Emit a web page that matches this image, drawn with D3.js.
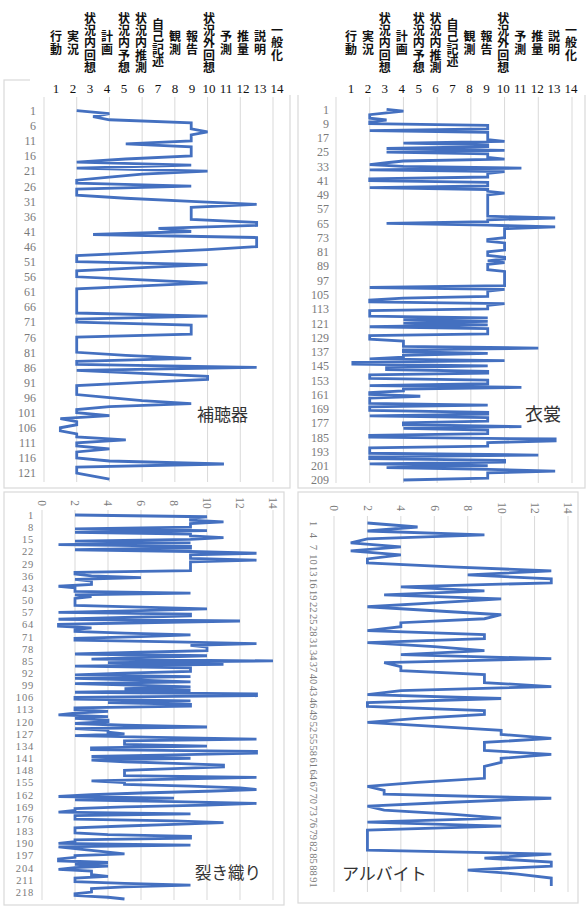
<!DOCTYPE html>
<html>
<head>
<meta charset="UTF-8">
<script src="https://d3js.org/d3.v7.min.js"></script>
<style>
  body { margin: 0; padding: 0; background: #fff; }
  svg { display: block; }
  .ticklab text { font-family: "Liberation Serif", "DejaVu Serif", serif; fill: #7a7a7a; }
  .head-cat { font-family: "Noto Sans CJK JP", sans-serif; font-weight: 700; font-size: 12px; fill: #111;
    writing-mode: vertical-rl; letter-spacing: 0.4px; }
  .head-num { font-family: "Liberation Serif", serif; font-size: 13px; fill: #111; }
  .note { font-family: "Noto Sans CJK JP", sans-serif; fill: #333; }
</style>
</head>
<body>
<svg id="chart" width="588" height="921"></svg>
<script>
  // 発話カテゴリ (1-14)
  var categories = ["行動", "実況", "状況内回想", "計画", "状況内予想", "状況内推測", "自己記述",
    "観測", "報告", "状況外回想", "予測", "推量", "説明", "一般化"];
  var categoryNumbers = d3.range(1, 15);
  var valueTicks = [0, 2, 4, 6, 8, 10, 12, 14];

  // 補聴器
  var hochokiValues = [2, 4, 3, 4, 9, 9, 9, 10, 9, 9,
    9, 5, 9, 9, 9, 9, 5, 2, 9, 2,
    10, 6, 4, 2, 2, 9, 2, 2, 2, 5,
    9, 13, 9, 9, 9, 9, 9, 13, 13, 7,
    9, 3, 13, 13, 13, 13, 10, 6, 2, 2,
    2, 10, 6, 2, 2, 2, 6, 10, 6, 2,
    2, 2, 2, 2, 2, 2, 2, 2, 10, 2,
    2, 9, 9, 9, 9, 2, 2, 2, 2, 2,
    2, 5, 9, 2, 2, 13, 2, 6, 10, 10,
    6, 2, 2, 2, 2, 4, 6, 9, 4, 2,
    2, 4, 1, 2, 2, 1, 1, 2, 2, 5,
    2, 2, 4, 2, 2, 2, 4, 11, 2, 2,
    2, 3, 4];
  var hochokiRowTicks = d3.range(1, 122, 5);

  // 衣裳
  var ishoValues = [3, 4, 3, 2, 2, 2, 3, 2, 2, 9,
    9, 9, 2, 9, 9, 9, 9, 9, 10, 4,
    9, 9, 3, 10, 3, 9, 9, 9, 10, 4,
    3, 2, 4, 11, 2, 10, 9, 9, 9, 2,
    2, 9, 9, 9, 2, 9, 9, 10, 9, 9,
    9, 9, 9, 9, 9, 9, 9, 9, 9, 9,
    9, 13, 9, 9, 3, 9, 13, 10, 10, 10,
    10, 10, 10, 9, 9, 10, 10, 10, 10, 10,
    9, 9, 9, 10, 10, 9, 10, 9, 9, 9,
    9, 10, 10, 10, 10, 10, 10, 10, 10, 10,
    2, 10, 9, 9, 9, 9, 4, 2, 2, 10,
    9, 9, 9, 2, 2, 2, 2, 9, 4, 9,
    4, 9, 2, 9, 9, 9, 9, 2, 2, 2,
    4, 4, 4, 4, 12, 4, 4, 9, 4, 4,
    2, 10, 1, 1, 9, 3, 3, 9, 9, 2,
    2, 2, 9, 9, 9, 2, 11, 4, 4, 2,
    2, 5, 2, 2, 2, 2, 9, 2, 2, 2,
    9, 9, 2, 9, 9, 9, 4, 4, 11, 4,
    9, 9, 9, 2, 2, 13, 13, 9, 9, 9,
    2, 2, 2, 2, 12, 2, 2, 10, 10, 2,
    9, 3, 9, 13, 9, 9, 9, 9, 4];
  var ishoRowTicks = d3.range(1, 210, 8);

  // 裂き織り
  var sakioriValues = [2, 10, 9, 9, 11, 9, 9, 9, 2, 10,
    2, 9, 9, 11, 9, 2, 9, 1, 9, 9,
    2, 9, 13, 9, 9, 9, 13, 9, 9, 9,
    9, 9, 9, 2, 2, 3, 6, 2, 3, 3,
    3, 1, 2, 2, 2, 9, 2, 3, 2, 2,
    2, 2, 2, 6, 10, 6, 1, 9, 9, 5,
    1, 12, 6, 1, 1, 3, 2, 2, 5, 9,
    6, 2, 2, 8, 13, 9, 10, 10, 10, 6,
    2, 10, 6, 3, 14, 4, 11, 2, 9, 9,
    9, 5, 2, 9, 2, 6, 9, 2, 6, 9,
    5, 9, 2, 13, 13, 2, 2, 9, 4, 9,
    9, 2, 2, 4, 2, 1, 4, 2, 4, 4,
    2, 5, 10, 2, 4, 4, 5, 2, 7, 13,
    5, 5, 5, 10, 3, 3, 13, 13, 8, 3,
    9, 3, 5, 8, 11, 11, 8, 5, 5, 5,
    5, 13, 8, 3, 5, 5, 9, 12, 13, 10,
    6, 3, 1, 8, 2, 8, 13, 10, 5, 2,
    2, 1, 9, 2, 2, 2, 8, 11, 8, 5,
    2, 2, 2, 2, 4, 9, 9, 2, 2, 1,
    9, 1, 2, 3, 4, 5, 2, 2, 1, 1,
    4, 2, 4, 2, 1, 3, 3, 3, 4, 2,
    2, 2, 5, 9, 5, 3, 3, 3, 2, 2,
    4, 5];
  var sakioriRowTicks = d3.range(1, 219, 7);

  // アルバイト
  var arubaitoValues = [2, 5, 2, 9, 2, 1, 4, 1, 4, 2,
    2, 7, 13, 8, 13, 13, 4, 9, 3, 10,
    6, 2, 6, 10, 9, 4, 4, 2, 9, 9,
    2, 6, 9, 4, 13, 3, 4, 4, 9, 9,
    9, 13, 4, 2, 10, 2, 2, 9, 9, 5,
    2, 6, 10, 10, 13, 9, 9, 9, 13, 10,
    10, 9, 9, 9, 9, 5, 2, 3, 3, 13,
    7, 2, 3, 7, 10, 2, 10, 2, 2, 2,
    2, 2, 2, 13, 9, 13, 13, 8, 11, 13,
    13, 13];
  var arubaitoRowTicks = d3.range(1, 92, 3);

  var svg = d3.select("#chart");
  var lineColor = "#4470c0";
  var gridColor = "#d9d9d9";

  function drawPanel(p) {
    var g = svg.append("g");
    g.append("rect")
      .attr("x", p.box[0]).attr("y", p.box[1])
      .attr("width", p.box[2]).attr("height", p.box[3])
      .attr("fill", "#fff").attr("stroke", gridColor).attr("stroke-width", 1.2);

    var x = d3.scaleLinear().domain([0, 14]).range(p.xRange);
    var y = d3.scaleLinear().domain([1, p.values.length]).range(p.yRange);

    g.selectAll(".grid")
      .data(valueTicks)
      .enter()
      .append("line")
      .attr("x1", d => x(d)).attr("x2", d => x(d))
      .attr("y1", p.gridY[0]).attr("y2", p.gridY[1])
      .attr("stroke", gridColor).attr("stroke-width", 1);

    // 行ラベル
    var rows = g.append("g")
      .attr("class", "ticklab")
      .attr("transform", "translate(" + p.labelX + ",0)")
      .call(d3.axisLeft(y).tickValues(p.rowTicks).tickSize(0).tickPadding(0).tickFormat(d3.format("d")));
    rows.select(".domain").remove();
    rows.selectAll("text")
      .style("font-size", p.rowFont + "px")
      .style("letter-spacing", (p.rowSpacing || 0) + "px");
    if (p.rotateRows) {
      rows.selectAll("text")
        .attr("x", 0).attr("dy", "0.35em")
        .attr("text-anchor", "middle")
        .attr("transform", "rotate(90)");
    }

    // 値ラベル (上、回転)
    if (p.valueLabelY) {
      var top = g.append("g")
        .attr("class", "ticklab")
        .attr("transform", "translate(0," + p.valueLabelY + ")")
        .call(d3.axisTop(x).tickValues(valueTicks).tickSize(0).tickPadding(0));
      top.select(".domain").remove();
      top.selectAll("text")
        .style("font-size", "11.5px")
        .attr("x", 0).attr("y", 0).attr("dy", "0.35em")
        .attr("text-anchor", "middle")
        .attr("transform", "rotate(90)");
    }

    g.append("path")
      .datum(p.values)
      .attr("fill", "none")
      .attr("stroke", lineColor)
      .attr("stroke-width", 2.8)
      .attr("stroke-linejoin", "miter")
      .attr("stroke-miterlimit", 3)
      .attr("d", d3.line().x(d => x(d)).y((d, i) => y(i + 1)));

    g.append("text")
      .attr("class", "note")
      .attr("x", p.note[1]).attr("y", p.note[2])
      .attr("dominant-baseline", "central")
      .style("font-size", p.note[3] + "px")
      .text(p.note[0]);
  }

  function drawHeader(x1, x14) {
    var hx = d3.scaleLinear().domain([1, 14]).range([x1, x14]);
    var g = svg.append("g");
    // 縦書きのカテゴリ名
    g.selectAll(".head-cat")
      .data(categories)
      .enter()
      .append("text")
      .attr("class", "head-cat")
      .attr("x", (d, i) => hx(i + 1))
      .attr("y", 43)
      .attr("text-anchor", "middle")
      .text(d => d);
    g.selectAll(".head-num")
      .data(categoryNumbers)
      .enter()
      .append("text")
      .attr("class", "head-num")
      .attr("x", d => hx(d))
      .attr("y", 93)
      .attr("text-anchor", "middle")
      .text(d => d);
  }

  drawPanel({
    values: hochokiValues, rowTicks: hochokiRowTicks,
    box: [4, 80, 286, 408], xRange: [44, 273], yRange: [110.7, 479.1], gridY: [97, 482],
    labelX: 36, rowFont: 12, note: ["補聴器", 197, 413, 17]
  });
  drawPanel({
    values: ishoValues, rowTicks: ishoRowTicks,
    box: [298, 80, 287, 408], xRange: [336, 572], yRange: [109.3, 480], gridY: [97, 483],
    labelX: 329, rowFont: 12, note: ["衣裳", 525, 413, 18]
  });
  drawPanel({
    values: sakioriValues, rowTicks: sakioriRowTicks,
    box: [4, 492, 280, 413], xRange: [42, 273], yRange: [515, 899], gridY: [510, 900],
    labelX: 34, rowFont: 10.5, rowSpacing: 0.8, valueLabelY: 503, note: ["裂き織り", 195, 872, 16.5]
  });
  drawPanel({
    values: arubaitoValues, rowTicks: arubaitoRowTicks,
    box: [298, 492, 280, 411], xRange: [334, 568], yRange: [523, 886], gridY: [516, 892],
    labelX: 314, rowFont: 10.5, rotateRows: true, valueLabelY: 508, note: ["アルバイト", 342, 872, 17]
  });

  // 見出し (カテゴリ表) が上部を覆う
  svg.append("rect").attr("x", 30).attr("y", 0).attr("width", 264).attr("height", 95).attr("fill", "#fff");
  svg.append("rect").attr("x", 294).attr("y", 0).attr("width", 294).attr("height", 95).attr("fill", "#fff");
  drawHeader(56, 277);
  drawHeader(351, 571);
</script>
</body>
</html>
